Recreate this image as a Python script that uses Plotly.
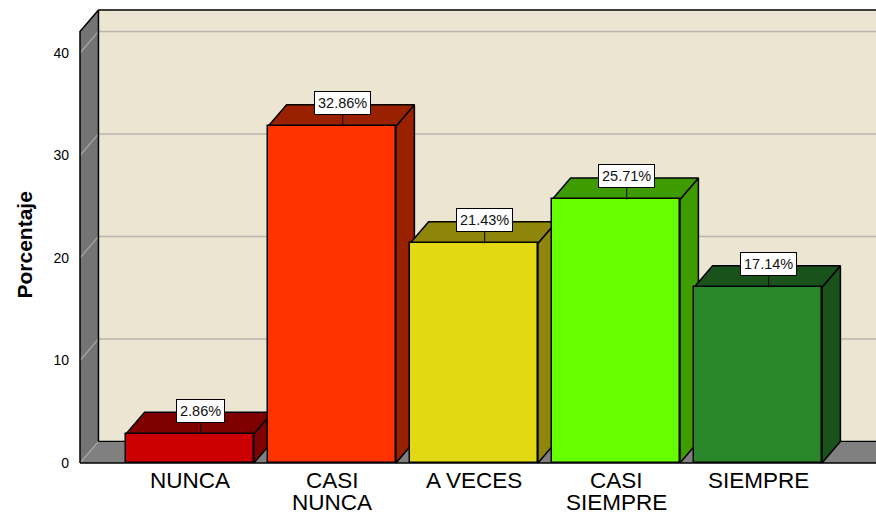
import plotly.graph_objects as go

# ---- data ----
categories = ["NUNCA", "CASI<br>NUNCA", "A VECES", "CASI<br>SIEMPRE", "SIEMPRE"]
values = [2.86, 32.86, 21.43, 25.71, 17.14]
value_labels = ["2.86%", "32.86%", "21.43%", "25.71%", "17.14%"]
y_ticks = [0, 10, 20, 30, 40]
front_colors = ["#CC0000", "#FF3300", "#E2D814", "#66FF00", "#29872A"]
shade_colors = ["#800000", "#9A2100", "#8E860A", "#3E9B00", "#1A521B"]

FONT = "Liberation Sans, Arial, sans-serif"

# ---- 3D geometry (data units) ----
BW = 0.9          # bar width
DX = 0.13         # depth offset in x
DY = 2.1          # depth offset in y
XL = -0.775       # left wall front
XR = 7.0          # beyond the right edge
H = 42.1          # wall height (front)
XMIN = XL - 4 / 142.0
XMAX = XMIN + 800 / 142.0
YMIN = -0.293
YMAX = 45.17

fig = go.Figure()

def poly(xs, ys, fill, line_color=None, lw=0, xaxis="x", yaxis="y"):
    fig.add_trace(go.Scatter(
        x=xs + [xs[0]], y=ys + [ys[0]], mode="lines", fill="toself",
        fillcolor=fill,
        line=dict(color=line_color or fill, width=lw if line_color else 0),
        hoverinfo="skip", showlegend=False, xaxis=xaxis, yaxis=yaxis))

def line(xs, ys, color, width):
    fig.add_trace(go.Scatter(x=xs, y=ys, mode="lines",
                             line=dict(color=color, width=width),
                             hoverinfo="skip", showlegend=False))

# walls
poly([XL + DX, XR, XR, XL + DX], [DY, DY, H + DY, H + DY], "#EBE5D2")      # back wall
poly([XL, XL, XL + DX, XL + DX], [0, H, H + DY, DY], "#747474")            # left wall
poly([XL, XR, XR, XL + DX], [0, 0, DY, DY], "#808080")                      # floor

# gridlines
for v in y_ticks:
    if v > 0:
        line([XL + DX, XR], [v + DY, v + DY], "#B9B6AE", 1.5)
    line([XL, XL + DX], [v, v + DY], "#A8A8A8", 1.2)

# wall outlines
line([XL + DX, XR], [H + DY, H + DY], "black", 1.5)
line([XL, XL, XL + DX, XL + DX], [0, H, H + DY, DY], "black", 1.5)
line([XL + DX, XR], [DY, DY], "black", 1.2)

# bar depth faces (top + side)
for i, v in enumerate(values):
    l, r = i - BW / 2, i + BW / 2
    poly([r, r + DX, r + DX, r], [0, DY, v + DY, v], shade_colors[i], "black", 1.5)
    poly([l, r, r + DX, l + DX], [v, v, v + DY, v + DY], shade_colors[i], "black", 1.5)

# floor front edge
line([XL, XR], [0, 0], "black", 1.5)

# bar front faces on an overlaid subplot (drawn above the depth faces)
fig.add_trace(go.Bar(
    x=list(range(len(values))), y=values, width=BW,
    marker=dict(color=front_colors, line=dict(color="black", width=1.5)),
    xaxis="x2", yaxis="y2", showlegend=False, hoverinfo="skip"))

# value labels
for i, v in enumerate(values):
    fig.add_annotation(
        x=i + 0.075, y=v, xref="x", yref="y", text=value_labels[i],
        showarrow=True, arrowhead=0, arrowwidth=1, arrowcolor="black",
        ax=0, ay=-23, standoff=0,
        bgcolor="white", bordercolor="black", borderwidth=1, borderpad=3,
        font=dict(family=FONT, size=14.5, color="#111111"))

# category labels (one annotation per line for tight line spacing)
for i, lab in enumerate(categories):
    for k, part in enumerate(lab.split("<br>")):
        fig.add_annotation(
            x=i, y=0, xref="x", yref="paper", text=part, showarrow=False,
            xanchor="center", yanchor="top", yshift=-1 - 22 * k,
            borderpad=0,
            font=dict(family=FONT, size=22.5, color="black"))

# y-axis title
fig.add_annotation(
    x=(24 - 76) / 800.0, y=(466 - 245.5) / 466.0, xref="paper", yref="paper",
    text="<b>Porcentaje</b>", textangle=-90, showarrow=False,
    xanchor="center", yanchor="middle",
    font=dict(family=FONT, size=21, color="black"))

axis_common = dict(showgrid=False, zeroline=False, showline=False, fixedrange=True)
fig.update_layout(
    width=876, height=516,
    margin=dict(l=76, r=0, t=0, b=50),
    paper_bgcolor="white", plot_bgcolor="white",
    xaxis=dict(range=[XMIN, XMAX], showticklabels=False, ticks="", **axis_common),
    yaxis=dict(range=[YMIN, YMAX], tickvals=y_ticks, ticks="",
               ticklabelstandoff=6,
               tickfont=dict(family=FONT, size=14, color="black"), **axis_common),
    xaxis2=dict(range=[XMIN, XMAX], overlaying="x", visible=False, **axis_common),
    yaxis2=dict(range=[YMIN, YMAX], overlaying="y", visible=False, **axis_common),
    bargap=0,
)

fig.write_html("out.html")
